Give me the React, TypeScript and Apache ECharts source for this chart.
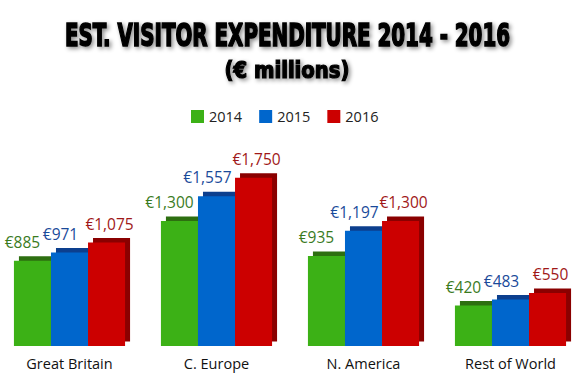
import React, { useEffect, useRef } from "react";
import * as echarts from "echarts";

const categories = ["Great Britain", "C. Europe", "N. America", "Rest of World"];
const years = ["2014", "2015", "2016"];
const values2014 = [885, 1300, 935, 420];
const values2015 = [971, 1557, 1197, 483];
const values2016 = [1075, 1750, 1300, 550];

const barColors = ["#3cb116", "#0066cc", "#cc0000"];
const shadowColors = ["#2d6f10", "#0c3f8e", "#8a0000"];
const labelColors = ["#3a7b1e", "#1a4a9a", "#a01818"];
const labelOffsets = [-10, -9, 3];

const TITLE = "EST. VISITOR EXPENDITURE 2014 - 2016";
const SUBTITLE = "(€ millions)";
const TITLE_FONT_FAMILY = '"DejaVu Sans Condensed", "DejaVu Sans", sans-serif';

function measure(text: string, font: string): number {
  const c = document.createElement("canvas");
  const ctx = c.getContext("2d");
  if (!ctx) return 1;
  ctx.font = font;
  return ctx.measureText(text).width || 1;
}

export default function App() {
  const ref = useRef<HTMLDivElement>(null);
  useEffect(() => {
    if (!ref.current) return;
    const chart = echarts.init(ref.current, undefined, { renderer: "svg" });
    const titleFont = `bold 32px ${TITLE_FONT_FAMILY}`;
    const subFont = `bold 23px ${TITLE_FONT_FAMILY}`;
    const titleScale = 445 / measure(TITLE, titleFont);
    const subScale = 125 / measure(SUBTITLE, subFont);
    const all = [values2014, values2015, values2016];

    const series = all.map((vals, si) => ({
      type: "custom",
      name: years[si],
      itemStyle: { color: barColors[si] },
      encode: { x: 0, y: 1 },
      data: vals.map((v, i) => [i, v]),
      renderItem: (params: any, api: any) => {
        const cat = api.value(0);
        const val = api.value(1);
        const base = api.coord([cat, 0]);
        const top = api.coord([cat, val]);
        const catW = api.size([1, 0])[0];
        const bw = catW * 0.252;
        const x = base[0] - 1.5 * bw + si * bw;
        const h = base[1] - top[1];
        return {
          type: "group",
          children: [
            {
              type: "rect",
              shape: { x: x + 5, y: top[1] - 4.5, width: bw, height: h },
              style: { fill: shadowColors[si] },
            },
            {
              type: "rect",
              shape: { x: x, y: top[1], width: bw, height: h },
              style: { fill: barColors[si] },
            },
            {
              type: "text",
              style: {
                text: "€" + val.toLocaleString("en-US"),
                x: x + bw / 2 + labelOffsets[si],
                y: top[1] - 11,
                textAlign: "center",
                textVerticalAlign: "bottom",
                fill: labelColors[si],
                fontSize: 15.5,
                fontFamily: '"Open Sans", sans-serif',
              },
            },
          ],
        };
      },
    }));

    chart.setOption({
      animation: false,
      backgroundColor: "#ffffff",
      legend: {
        data: years,
        top: 104,
        left: 186,
        icon: "rect",
        itemWidth: 13,
        itemHeight: 13,
        itemGap: 17,
        textStyle: { fontSize: 14.5, fontFamily: '"Open Sans", sans-serif', color: "#222" },
      },
      grid: {
        left: -4,
        right: -4,
        top: 153.6,
        bottom: 41,
        containLabel: false,
        outerBoundsMode: "none",
      },
      xAxis: {
        type: "category",
        data: categories,
        axisLine: { show: false },
        axisTick: { show: false },
        axisLabel: {
          margin: 10,
          fontSize: 14.5,
          fontFamily: '"Open Sans", sans-serif',
          color: "#111",
        },
      },
      yAxis: { type: "value", min: 0, max: 2000, show: false, splitLine: { show: false } },
      graphic: [
        {
          type: "text",
          x: 287.5,
          y: 34.4,
          scaleX: titleScale,
          style: {
            text: TITLE,
            font: titleFont,
            fill: "#000",
            stroke: "#000",
            lineWidth: 1.6,
            textAlign: "center",
            textVerticalAlign: "middle",
            textShadowColor: "rgba(0,0,0,0.45)",
            textShadowBlur: 4,
            textShadowOffsetX: 2,
            textShadowOffsetY: 2,
          },
        },
        {
          type: "text",
          x: 287,
          y: 70,
          scaleX: subScale,
          style: {
            text: SUBTITLE,
            font: subFont,
            fill: "#000",
            stroke: "#000",
            lineWidth: 1.2,
            textAlign: "center",
            textVerticalAlign: "middle",
            textShadowColor: "rgba(0,0,0,0.45)",
            textShadowBlur: 4,
            textShadowOffsetX: 2,
            textShadowOffsetY: 2,
          },
        },
      ],
      series,
    });
    return () => chart.dispose();
  }, []);
  return (
    <div
      ref={ref}
      style={{ position: "absolute", left: 0, top: 0, width: 580, height: 387 }}
    />
  );
}
